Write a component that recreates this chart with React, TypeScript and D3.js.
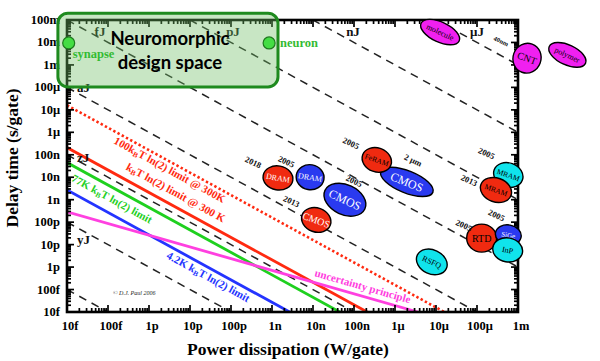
import React from 'react';
import * as d3 from 'd3';

// axis ticks (W/gate and s/gate)
const xTickLabels = ['10f', '100f', '1p', '10p', '100p', '1n', '10n', '100n', '1μ', '10μ', '100μ', '1m'];
const xTickValues = [1e-14, 1e-13, 1e-12, 1e-11, 1e-10, 1e-9, 1e-8, 1e-7, 1e-6, 1e-5, 1e-4, 1e-3];
const yTickLabels = ['10f', '100f', '1p', '10p', '100p', '1n', '10n', '100n', '1μ', '10μ', '100μ', '1m', '10m', '100m'];
const yTickValues = [1e-14, 1e-13, 1e-12, 1e-11, 1e-10, 1e-9, 1e-8, 1e-7, 1e-6, 1e-5, 1e-4, 1e-3, 1e-2, 1e-1];

// constant switching energy lines (J)
const energyLines = [1e-27, 1e-24, 1e-21, 1e-18, 1e-15, 1e-12, 1e-9, 1e-6];
const topEnergyLabels = ['fJ', 'pJ', 'nJ', 'μJ'];
const topEnergyValues = [1e-15, 1e-12, 1e-9, 1e-6];
const leftEnergyLabels = ['aJ', 'zJ', 'yJ'];
const leftEnergyValues = [1e-18, 1e-21, 1e-24];

// thermodynamic limits (J)
const limitPre = ['100k', 'k', '77K k', '4.2K k'];
const limitPost = ['T ln(2) limit @ 300K', 'T ln(2) limit @ 300 K', 'T ln(2) limit', 'T ln(2) limit'];
const limitEnergies = [1.6e-19, 2.1e-21, 4.5e-22, 2.7e-23];
const limitColors = ['#ff2a10', '#ff2a10', '#1fd01f', '#2434ff'];
const uncertaintyPoints: [number, number][] = [[1e-14, 2.9e-10], [3.6e-6, 1e-14]];

// devices: power (W/gate), delay (s/gate)
const deviceNames = ['DRAM', 'DRAM', 'CMOS', 'CMOS', 'CMOS', 'FeRAM', 'MRAM', 'MRAM', 'RTD', 'SiGe', 'InP', 'RSFQ', 'molecule', 'CNT', 'polymer'];
const deviceYears = ['2018', '2005', '2005', '2013', '2 μm', '2005', '2005', '2013', '2005', '2005', '', '', '', '40nm', ''];
const devicePower = [1.4e-9, 8.5e-9, 6e-8, 1.2e-8, 1.95e-6, 3.6e-7, 5.8e-4, 2.9e-4, 1.3e-4, 5.8e-4, 5.6e-4, 7.9e-6, 1.26e-5, 1.66e-3, 1.6e-2];
const deviceDelay = [9.3e-9, 1e-8, 1e-9, 1.25e-10, 6.2e-9, 5.9e-8, 1.26e-8, 2.7e-9, 1.95e-11, 2.7e-11, 5.8e-12, 1.7e-12, 2.9e-2, 2e-3, 2.8e-3];
const deviceKind = ['red', 'blue', 'blue', 'red', 'blue', 'red', 'cyan', 'red', 'red', 'blue', 'cyan', 'cyan', 'magenta', 'magenta', 'magenta'];

// neuromorphic region
const neuroPower = [6e-15, 1.4e-9];
const neuroDelay = [2e-1, 1.05e-4];
const neuroPoints = ['synapse', 'neuron'];
const neuroPointPower = [1.1e-14, 8.5e-10];
const neuroPointDelay = [9.5e-3, 9.5e-3];

const kindFill: Record<string, string> = {red: '#f02a10', blue: '#2a3af0', cyan: '#10e4ec', magenta: '#f020f0'};

// per-device shape layout: radii, rotation, font size, year label offset
const deviceLayout = [
  {rx: 15, ry: 12, rot: 10, fs: 8, tc: '#fff', dx: -26, dy: -13},
  {rx: 14, ry: 12.5, rot: 10, fs: 8, tc: '#fff', dx: -25, dy: -13},
  {rx: 22, ry: 15, rot: 25, fs: 12, tc: '#fff', dx: 8, dy: -16},
  {rx: 15, ry: 12, rot: 20, fs: 10, tc: '#fff', dx: -26, dy: -16},
  {rx: 28, ry: 11, rot: 22, fs: 12, tc: '#fff', dx: 5, dy: -19},
  {rx: 15, ry: 12, rot: 20, fs: 7.5, tc: '#000', dx: -27, dy: -14},
  {rx: 15, ry: 12, rot: 20, fs: 7.5, tc: '#000', dx: -23, dy: -19},
  {rx: 16, ry: 12, rot: 20, fs: 7.5, tc: '#000', dx: -28, dy: -7},
  {rx: 15, ry: 14, rot: 0, fs: 10, tc: '#000', dx: -19, dy: -10},
  {rx: 13, ry: 10, rot: 10, fs: 7, tc: '#fff', dx: -13, dy: -17},
  {rx: 15, ry: 12, rot: 10, fs: 8, tc: '#000', dx: 0, dy: 0},
  {rx: 16, ry: 12, rot: 25, fs: 8, tc: '#000', dx: 0, dy: 0},
  {rx: 21, ry: 10, rot: 25, fs: 8, tc: '#000', dx: 0, dy: 0},
  {rx: 14, ry: 15, rot: 20, fs: 10, tc: '#000', dx: -27, dy: -15},
  {rx: 20, ry: 10, rot: 25, fs: 8, tc: '#000', dx: 0, dy: 0},
];

const serif = '"Liberation Serif", "Times New Roman", serif';
const sans = 'Lato, "Open Sans", sans-serif';

export default function App() {
  const x = d3.scaleLog().domain([1e-14, 1e-3]).range([67, 518]);
  const y = d3.scaleLog().domain([1e-1, 1e-14]).range([20, 312]);
  const [x0, x1] = x.range();
  const [y0, y1] = y.range();
  const line = d3.line<[number, number]>().x(d => x(d[0])).y(d => y(d[1]));

  const energyPath = (E: number) => line([[1e-14, E / 1e-14], [1e-3, E / 1e-3]]);
  const slopeAngle = (Math.atan2(y(1e-15 / 1e-3) - y(1e-15 / 1e-14), x(1e-3) - x(1e-14)) * 180) / Math.PI;

  const uncT = (P: number) => {
    const [[pa, ta], [pb, tb]] = uncertaintyPoints;
    const k = (Math.log10(tb) - Math.log10(ta)) / (Math.log10(pb) - Math.log10(pa));
    return Math.pow(10, Math.log10(ta) + (Math.log10(P) - Math.log10(pa)) * k);
  };
  const uncAngle = (Math.atan2(y(uncertaintyPoints[1][1]) - y(uncertaintyPoints[0][1]), x(uncertaintyPoints[1][0]) - x(uncertaintyPoints[0][0])) * 180) / Math.PI;

  // label anchors along limit lines (power) and perpendicular offsets
  const limitLabelP = [3.9e-12, 3.2e-12, 1.65e-13, 3.5e-11];
  const limitLabelDy = [11, -9, 14, 12];
  const topLabelDx = [33, 43, 40, 41];

  // minor log ticks
  const minor = (lo: number, hi: number) => {
    const out: number[] = [];
    for (let e = lo; e < hi; e++) for (let k = 2; k < 10; k++) out.push(k * Math.pow(10, e));
    return out;
  };
  const xMinor = minor(-14, -3);
  const yMinor = minor(-14, -1);

  const tickStroke = {stroke: '#000', strokeWidth: 1.7};
  const boxCx = (x(neuroPower[0]) + x(neuroPower[1])) / 2;

  return (
    <svg width={600} height={361} style={{position: 'absolute', left: 0, top: 0, background: '#fff'}} fontFamily={serif}>
      <defs>
        <clipPath id="plot">
          <rect x={x0} y={y0} width={x1 - x0} height={y1 - y0} />
        </clipPath>
      </defs>
      <rect width={600} height={361} fill="#fff" />

      <g clipPath="url(#plot)">
        {energyLines.map(E => (
          <path key={E} d={energyPath(E) || ''} stroke="#222" strokeWidth={1.5} strokeDasharray="8,6" fill="none" />
        ))}
        {limitEnergies.map((E, i) => (
          <path key={i} d={energyPath(E) || ''} stroke={limitColors[i]} fill="none"
            strokeWidth={i === 0 ? 2.6 : 2.8} strokeDasharray={i === 0 ? '2.4,2.4' : undefined} />
        ))}
        <path d={line(uncertaintyPoints) || ''} stroke="#ff40e0" strokeWidth={2.8} fill="none" />
      </g>

      {/* frame and ticks */}
      <rect x={x0} y={y0} width={x1 - x0} height={y1 - y0} fill="none" stroke="#000" strokeWidth={2.6} />
      {xTickValues.map(v => (
        <g key={'xt' + v}>
          <line x1={x(v)} x2={x(v)} y1={y1} y2={y1 - 7} {...tickStroke} />
          <line x1={x(v)} x2={x(v)} y1={y0} y2={y0 + 7} {...tickStroke} />
        </g>
      ))}
      {xMinor.map(v => (
        <g key={'xm' + v}>
          <line x1={x(v)} x2={x(v)} y1={y1} y2={y1 - 4} {...tickStroke} />
          <line x1={x(v)} x2={x(v)} y1={y0} y2={y0 + 4} {...tickStroke} />
        </g>
      ))}
      {yTickValues.map(v => (
        <g key={'yt' + v}>
          <line x1={x0} x2={x0 + 7} y1={y(v)} y2={y(v)} {...tickStroke} />
          <line x1={x1} x2={x1 - 7} y1={y(v)} y2={y(v)} {...tickStroke} />
        </g>
      ))}
      {yMinor.map(v => (
        <g key={'ym' + v}>
          <line x1={x0} x2={x0 + 4} y1={y(v)} y2={y(v)} {...tickStroke} />
          <line x1={x1} x2={x1 - 4} y1={y(v)} y2={y(v)} {...tickStroke} />
        </g>
      ))}

      {/* tick labels */}
      {xTickLabels.map((t, i) => (
        <text key={'xl' + t} x={x(xTickValues[i]) + 3} y={330} textAnchor="middle" fontSize={12.5} fontWeight="bold">{t}</text>
      ))}
      {yTickLabels.map((t, i) => (
        <text key={'yl' + t} x={60} y={y(yTickValues[i]) + 4} textAnchor="end" fontSize={12.5} fontWeight="bold">{t}</text>
      ))}
      <text x={288} y={355} textAnchor="middle" fontSize={17.5} fontWeight="bold">Power dissipation (W/gate)</text>
      <text transform={`translate(18,158) rotate(-90)`} textAnchor="middle" fontSize={17.5} fontWeight="bold">Delay time (s/gate)</text>

      {/* energy labels */}
      {topEnergyLabels.map((t, i) => (
        <text key={t} x={x(topEnergyValues[i] / 1e-1) + topLabelDx[i]} y={36} textAnchor="middle" fontSize={13} fontWeight="bold" fill="#111">{t}</text>
      ))}
      {leftEnergyLabels.map((t, i) => (
        <text key={t} x={77} y={y(leftEnergyValues[i] / 1e-14) + [5, 7, 22][i]} fontSize={13} fontWeight="bold" fill="#111">{t}</text>
      ))}

      {/* limit labels */}
      {limitEnergies.map((E, i) => {
        const P = limitLabelP[i];
        return (
          <text key={'ll' + i} transform={`translate(${x(P)},${y(E / P)}) rotate(${slopeAngle})`} dy={limitLabelDy[i]}
            textAnchor="middle" fontSize={11} fontWeight="bold" fill={limitColors[i]}>
            {limitPre[i]}<tspan fontSize={7.5} dy={2}>B</tspan><tspan dy={-2}>{limitPost[i]}</tspan>
          </text>
        );
      })}
      <text transform={`translate(${x(1.4e-7)},${y(uncT(1.4e-7))}) rotate(${uncAngle})`} dy={-6}
        textAnchor="middle" fontSize={11} fontWeight="bold" fill="#ff40e0">uncertainty principle</text>

      <text x={113} y={295} fontSize={6} fontStyle="italic" fill="#222">© D.J. Paul 2006</text>

      {/* devices */}
      {deviceNames.map((name, i) => {
        const L = deviceLayout[i];
        const cx = x(devicePower[i]);
        const cy = y(deviceDelay[i]);
        return (
          <g key={'d' + i}>
            <g transform={`translate(${cx},${cy}) rotate(${L.rot})`}>
              <ellipse rx={L.rx} ry={L.ry} fill={kindFill[deviceKind[i]]} stroke="#000" strokeWidth={1.4} />
              <text y={L.fs * 0.35} textAnchor="middle" fontSize={L.fs} fill={L.tc}>{name}</text>
            </g>
            {deviceYears[i] && (
              <text transform={`translate(${cx + L.dx},${cy + L.dy}) rotate(25)`} textAnchor="middle"
                fontSize={deviceYears[i] === '40nm' ? 6.5 : 8.5} fontWeight="bold" fill="#111">{deviceYears[i]}</text>
            )}
          </g>
        );
      })}

      {/* neuromorphic design space */}
      <rect x={x(neuroPower[0])} y={y(neuroDelay[0])} width={x(neuroPower[1]) - x(neuroPower[0])}
        height={y(neuroDelay[1]) - y(neuroDelay[0])} rx={10} fill="rgba(110,190,100,0.38)" stroke="#1e8a1e" strokeWidth={3} />
      <text x={boxCx + 2} y={45} textAnchor="middle" fontSize={18.5} fontWeight="bold" fontFamily={sans} fill="#000">Neuromorphic</text>
      <text x={boxCx + 2} y={69} textAnchor="middle" fontSize={18.5} fontWeight="bold" fontFamily={sans} fill="#000">design space</text>
      {neuroPoints.map((n, i) => (
        <g key={n}>
          <circle cx={x(neuroPointPower[i])} cy={y(neuroPointDelay[i])} r={6} fill="#44dd44" stroke="#1e7a1e" strokeWidth={1.2} />
          <text x={x(neuroPointPower[i]) + (i === 0 ? 4 : 11)} y={y(neuroPointDelay[i]) + (i === 0 ? 15 : 4)}
            fontSize={12.5} fontWeight="bold" fill="#33bb33">{n}</text>
        </g>
      ))}
    </svg>
  );
}
